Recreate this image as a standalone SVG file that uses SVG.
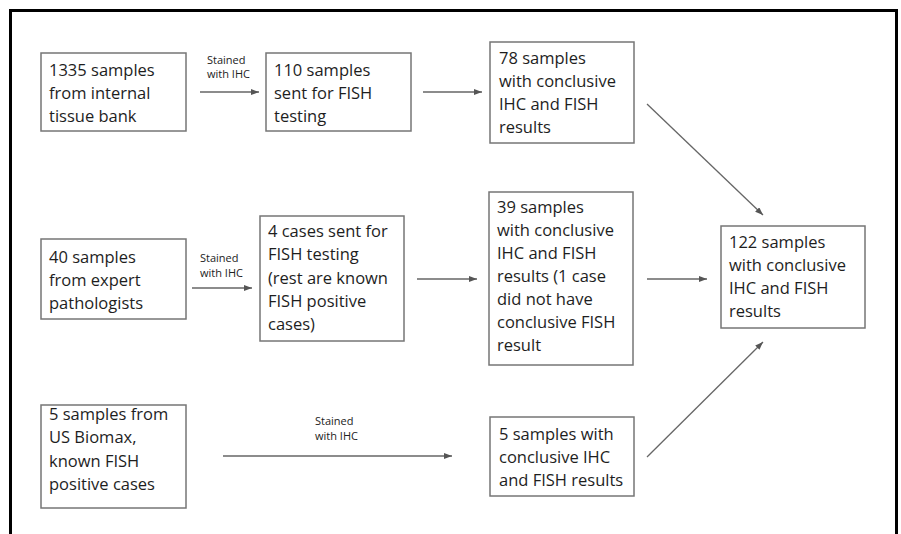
<svg xmlns="http://www.w3.org/2000/svg" width="901" height="534" viewBox="0 0 901 534">
<style>
.box{fill:#fff;stroke:#767676;stroke-width:1.5}
.t{font-family:"Open Sans","Liberation Sans",sans-serif;font-size:16.5px;fill:#1e1e1e}
.lbl{font-family:"Open Sans","Liberation Sans",sans-serif;font-size:11px;fill:#222}
.c{stroke:#666;stroke-width:1.3;fill:none;marker-end:url(#ah)}
</style>
<defs>
<marker id="ah" viewBox="0 0 8 6" refX="8" refY="3" markerWidth="8" markerHeight="6" markerUnits="userSpaceOnUse" orient="auto">
<path d="M0,0 L8,3 L0,6 Z" fill="#555"/>
</marker>
</defs>
<rect width="901" height="534" fill="#fff"/>
<rect x="10.5" y="10.5" width="886" height="540" fill="none" stroke="#000" stroke-width="3"/>
<g id="connectors">
<line class="c" x1="200" y1="92" x2="259" y2="92"/>
<line class="c" x1="423" y1="92" x2="482" y2="92"/>
<line class="c" x1="647" y1="104" x2="763" y2="215"/>
<line class="c" x1="192" y1="288" x2="252" y2="288"/>
<line class="c" x1="417" y1="279" x2="477" y2="279"/>
<line class="c" x1="647" y1="279" x2="707" y2="279"/>
<line class="c" x1="223" y1="456" x2="452" y2="456"/>
<line class="c" x1="647" y1="457" x2="763" y2="342"/>
<text class="lbl" x="207" y="64">Stained</text>
<text class="lbl" x="207" y="78">with IHC</text>
<text class="lbl" x="200" y="262">Stained</text>
<text class="lbl" x="200" y="277">with IHC</text>
<text class="lbl" x="315" y="425">Stained</text>
<text class="lbl" x="315" y="440">with IHC</text>
</g>
<g id="n1335">
<rect class="box" x="41" y="53" width="145" height="78"/>
<text class="t" x="49" y="76">1335 samples</text>
<text class="t" x="49" y="99">from internal</text>
<text class="t" x="49" y="122">tissue bank</text>
</g>
<g id="n110">
<rect class="box" x="266" y="53" width="145" height="78"/>
<text class="t" x="274" y="76">110 samples</text>
<text class="t" x="274" y="99">sent for FISH</text>
<text class="t" x="274" y="122">testing</text>
</g>
<g id="n78">
<rect class="box" x="490" y="42" width="144" height="101"/>
<text class="t" x="499" y="64">78 samples</text>
<text class="t" x="499" y="87">with conclusive</text>
<text class="t" x="499" y="110">IHC and FISH</text>
<text class="t" x="499" y="133">results</text>
</g>
<g id="n40">
<rect class="box" x="41" y="239" width="145" height="80"/>
<text class="t" x="49" y="263">40 samples</text>
<text class="t" x="49" y="286">from expert</text>
<text class="t" x="49" y="309">pathologists</text>
</g>
<g id="n4">
<rect class="box" x="260" y="216" width="144" height="125"/>
<text class="t" x="268" y="237">4 cases sent for</text>
<text class="t" x="268" y="260">FISH testing</text>
<text class="t" x="268" y="284">(rest are known</text>
<text class="t" x="268" y="307">FISH positive</text>
<text class="t" x="268" y="330">cases)</text>
</g>
<g id="n39">
<rect class="box" x="489" y="192" width="144" height="173"/>
<text class="t" x="497" y="213">39 samples</text>
<text class="t" x="497" y="236">with conclusive</text>
<text class="t" x="497" y="259">IHC and FISH</text>
<text class="t" x="497" y="282">results (1 case</text>
<text class="t" x="497" y="305">did not have</text>
<text class="t" x="497" y="328">conclusive FISH</text>
<text class="t" x="497" y="351">result</text>
</g>
<g id="n122">
<rect class="box" x="721" y="226" width="144" height="102"/>
<text class="t" x="729" y="248">122 samples</text>
<text class="t" x="729" y="271">with conclusive</text>
<text class="t" x="729" y="294">IHC and FISH</text>
<text class="t" x="729" y="317">results</text>
</g>
<g id="n5src">
<rect class="box" x="41" y="405" width="145" height="103"/>
<text class="t" x="49" y="420">5 samples from</text>
<text class="t" x="49" y="443">US Biomax,</text>
<text class="t" x="49" y="467">known FISH</text>
<text class="t" x="49" y="490">positive cases</text>
</g>
<g id="n5res">
<rect class="box" x="490" y="417" width="144" height="79"/>
<text class="t" x="499" y="440">5 samples with</text>
<text class="t" x="499" y="463">conclusive IHC</text>
<text class="t" x="499" y="486">and FISH results</text>
</g>
</svg>
